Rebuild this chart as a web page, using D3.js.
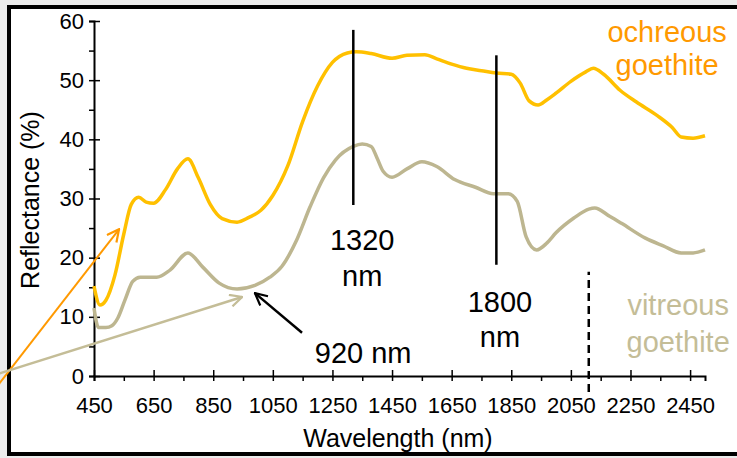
<!DOCTYPE html>
<html>
<head>
<meta charset="utf-8">
<script src="https://cdn.jsdelivr.net/npm/d3@7"></script>
<style>
  body { margin: 0; background: #ececec; }
  svg { display: block; }
  svg text { font-family: "Liberation Sans", Arial, sans-serif; }
</style>
</head>
<body>
<div id="chart"></div>
<script>
const width = 737;
const height = 458;

// ochreous goethite spectrum
const ochreousWl = [450, 470, 490, 520, 550, 575, 600, 625, 650, 690, 730, 765, 800, 840, 880, 930, 970, 1010, 1050, 1100,
  1150, 1200, 1250, 1300, 1330, 1380, 1450, 1500, 1560, 1600, 1650, 1700, 1750, 1800, 1850, 1880, 1910, 1940, 1970, 2000,
  2050, 2100, 2125, 2160, 2215, 2270, 2340, 2390, 2420, 2460, 2500];
const ochreousRefl = [15.2, 12.0, 12.8, 17.0, 24.0, 29.0, 30.2, 29.4, 29.2, 31.5, 35.0, 36.7, 33.5, 29.0, 26.6, 26.0, 26.8, 28.0, 30.5, 35.5,
  43.0, 49.0, 53.0, 54.6, 54.8, 54.5, 53.7, 54.2, 54.3, 53.6, 52.7, 52.0, 51.6, 51.2, 51.0, 49.5, 46.5, 45.8, 46.7, 47.8,
  49.8, 51.4, 52.0, 51.0, 48.3, 46.3, 44.0, 42.0, 40.4, 40.2, 40.6];

// vitreous goethite spectrum
const vitreousWl = [450, 465, 490, 510, 530, 555, 580, 605, 660, 705, 765, 815, 870, 930, 990, 1040, 1080, 1130, 1175, 1220,
  1260, 1320, 1350, 1380, 1400, 1420, 1450, 1500, 1550, 1600, 1660, 1730, 1790, 1840, 1870, 1900, 1935, 1970, 2000, 2060,
  2110, 2130, 2180, 2220, 2300, 2360, 2420, 2460, 2500];
const vitreousRefl = [11.5, 8.2, 8.2, 8.5, 9.8, 13.0, 16.0, 16.7, 16.7, 17.9, 20.8, 18.4, 15.7, 14.7, 15.3, 16.7, 18.5, 23.0, 28.6, 33.5,
  36.5, 38.8, 39.2, 38.8, 36.8, 34.6, 33.6, 35.0, 36.2, 35.4, 33.2, 31.9, 30.8, 30.8, 29.5, 23.5, 21.3, 22.5, 24.2, 26.7,
  28.2, 28.4, 27.0, 25.8, 23.3, 22.0, 20.8, 20.8, 21.3];

const xMajorTicks = [450, 650, 850, 1050, 1250, 1450, 1650, 1850, 2050, 2250, 2450];
const xMinorTicks = [550, 750, 950, 1150, 1350, 1550, 1750, 1950, 2150, 2350];
const yMajorTicks = [0, 10, 20, 30, 40, 50, 60];
const yMinorTicks = [5, 15, 25, 35, 45, 55];

// feature markers: wavelength, low and high reflectance
const bandWl = [1320, 1800];
const bandLow = [28.9, 18.8];
const bandHigh = [58.5, 54.2];
const dashedWl = 2110;
const dashedRange = [-2.7, 17.6];

const ochreous = ochreousWl.map((w, i) => ({ w: w, r: ochreousRefl[i] }));
const vitreous = vitreousWl.map((w, i) => ({ w: w, r: vitreousRefl[i] }));

const svg = d3.select("#chart").append("svg")
  .attr("width", width)
  .attr("height", height);

// frame
svg.append("rect")
  .attr("x", 9).attr("y", 7)
  .attr("width", 740).attr("height", 447)
  .attr("fill", "white")
  .attr("stroke", "black")
  .attr("stroke-width", 4);

const x = d3.scaleLinear().domain([450, 2500]).range([94, 705]);
const y = d3.scaleLinear().domain([0, 60]).range([376, 21]);

// x axis
svg.append("g")
  .attr("transform", `translate(0, ${y(0)})`)
  .call(d3.axisBottom(x).tickValues(xMinorTicks).tickSize(5).tickFormat(""))
  .call(g => g.select(".domain").remove())
  .call(g => g.selectAll("line").attr("stroke-width", 1.5));

const xAxis = svg.append("g")
  .attr("transform", `translate(0, ${y(0)})`)
  .call(d3.axisBottom(x).tickValues(xMajorTicks).tickFormat(d3.format("d"))
    .tickSizeOuter(0).tickSize(5).tickPadding(16));
xAxis.select(".domain").attr("stroke-width", 2);
xAxis.selectAll(".tick line").attr("y1", -6).attr("stroke-width", 1.5);
xAxis.selectAll(".tick text").attr("font-size", 22);

// y axis
svg.append("g")
  .attr("transform", `translate(${x(450)}, 0)`)
  .call(d3.axisLeft(y).tickValues(yMinorTicks).tickSize(5).tickFormat(""))
  .call(g => g.select(".domain").remove())
  .call(g => g.selectAll("line").attr("stroke-width", 1.5));

const yAxis = svg.append("g")
  .attr("transform", `translate(${x(450)}, 0)`)
  .call(d3.axisLeft(y).tickValues(yMajorTicks).tickSizeOuter(0).tickSize(5).tickPadding(5));
yAxis.select(".domain").attr("stroke-width", 2);
yAxis.selectAll(".tick line").attr("x1", 6).attr("stroke-width", 1.5);
yAxis.selectAll(".tick text").attr("font-size", 22);

// axis titles
svg.append("text")
  .attr("x", 398).attr("y", 447)
  .attr("text-anchor", "middle")
  .attr("font-size", 25)
  .text("Wavelength (nm)");

svg.append("text")
  .attr("transform", "translate(39, 200) rotate(-90)")
  .attr("text-anchor", "middle")
  .attr("font-size", 25)
  .text("Reflectance (%)");

// spectra
const line = d3.line()
  .x(d => x(d.w))
  .y(d => y(d.r))
  .curve(d3.curveMonotoneX);

svg.append("path")
  .datum(vitreous)
  .attr("d", line)
  .attr("fill", "none")
  .attr("stroke", "#bdb690")
  .attr("stroke-width", 3.5);

svg.append("path")
  .datum(ochreous)
  .attr("d", line)
  .attr("fill", "none")
  .attr("stroke", "#ffc000")
  .attr("stroke-width", 3.5);

// band markers
bandWl.forEach((w, i) => {
  svg.append("line")
    .attr("x1", x(w)).attr("x2", x(w))
    .attr("y1", y(bandLow[i])).attr("y2", y(bandHigh[i]))
    .attr("stroke", "black")
    .attr("stroke-width", 2.5);
});

svg.append("line")
  .attr("x1", x(dashedWl)).attr("x2", x(dashedWl))
  .attr("y1", y(dashedRange[0])).attr("y2", y(dashedRange[1]))
  .attr("stroke", "black")
  .attr("stroke-width", 2.5)
  .attr("stroke-dasharray", "8,5");

// arrowheads
const defs = svg.append("defs");
function arrowMarker(id, color) {
  defs.append("marker")
    .attr("id", id)
    .attr("viewBox", "0 -7 14 14")
    .attr("refX", 13)
    .attr("refY", 0)
    .attr("markerUnits", "userSpaceOnUse")
    .attr("markerWidth", 14)
    .attr("markerHeight", 14)
    .attr("orient", "auto")
    .append("path")
    .attr("d", "M1,-6L13,0L1,6")
    .attr("fill", "none")
    .attr("stroke", color)
    .attr("stroke-width", 2.2);
}
arrowMarker("head-orange", "#ff9900");
arrowMarker("head-tan", "#c4bd97");
arrowMarker("head-black", "black");

function arrow(w1, r1, w2, r2, color, id, sw) {
  svg.append("line")
    .attr("x1", x(w1)).attr("y1", y(r1))
    .attr("x2", x(w2)).attr("y2", y(r2))
    .attr("stroke", color)
    .attr("stroke-width", sw)
    .attr("marker-end", `url(#${id})`);
}
arrow(118, -2.2, 534, 24.8, "#ff9900", "head-orange", 2);
arrow(118, 0.2, 947, 13.35, "#c4bd97", "head-tan", 2.5);
arrow(1148, 7.3, 990, 14.0, "black", "head-black", 2.5);

// annotation text
function label(w, r, txt, color) {
  svg.append("text")
    .attr("x", x(w)).attr("y", y(r))
    .attr("text-anchor", "middle")
    .attr("font-size", 29)
    .attr("fill", color)
    .text(txt);
}
label(1350, 21.3, "1320", "black");
label(1350, 15.2, "nm", "black");
label(1812, 10.8, "1800", "black");
label(1812, 4.9, "nm", "black");
label(1353, 2.2, "920 nm", "black");
label(2373, 56.4, "ochreous", "#ff9900");
label(2373, 50.9, "goethite", "#ff9900");
label(2410, 10.3, "vitreous", "#c4bd97");
label(2410, 4.1, "goethite", "#c4bd97");
</script>
</body>
</html>
